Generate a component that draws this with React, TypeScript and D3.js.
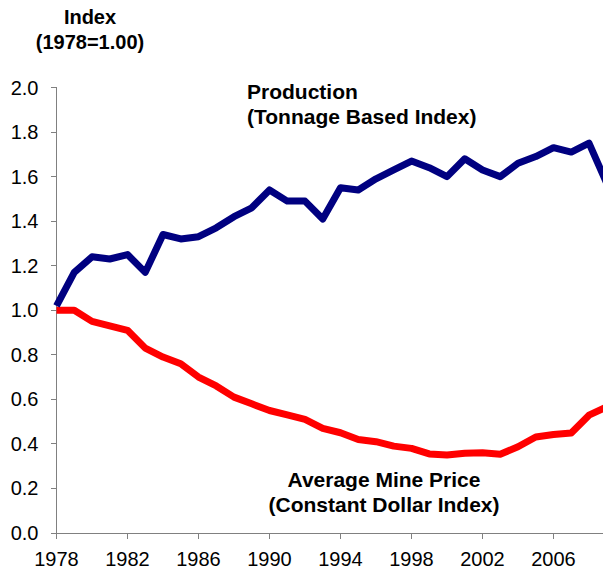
import React from 'react';
import * as d3 from 'd3';

const years = d3.range(1978, 2010);

const production = [
  1.02, 1.17, 1.24, 1.23, 1.25, 1.17, 1.34, 1.32, 1.33, 1.37, 1.42, 1.46,
  1.54, 1.49, 1.49, 1.41, 1.55, 1.54, 1.59, 1.63, 1.67, 1.64, 1.6, 1.68,
  1.63, 1.6, 1.66, 1.69, 1.73, 1.71, 1.75, 1.57,
];

const price = [
  1.0, 1.0, 0.95, 0.93, 0.91, 0.83, 0.79, 0.76, 0.7, 0.66, 0.61, 0.58,
  0.55, 0.53, 0.51, 0.47, 0.45, 0.42, 0.41, 0.39, 0.38, 0.355, 0.35, 0.358,
  0.36, 0.354, 0.387, 0.431, 0.442, 0.449, 0.529, 0.566,
];

const yTicks = [0, 0.2, 0.4, 0.6, 0.8, 1.0, 1.2, 1.4, 1.6, 1.8, 2.0];
const xTicks = [1978, 1982, 1986, 1990, 1994, 1998, 2002, 2006];

const width = 603;
const height = 569;
const margin = { top: 87.5, left: 56.5, bottom: 36 };
const font = 'Arial, "Liberation Sans", sans-serif';

export default function App() {
  const x = d3.scaleLinear([1978, 2009], [margin.left, margin.left + 31 * 17.75]);
  const y = d3.scaleLinear([0, 2], [height - margin.bottom, margin.top]);

  const line = d3.line((d, i) => x(years[i]), y);
  const axisColor = '#808080';
  const y0 = y(0);

  return (
    <div style={{ position: 'absolute', left: 0, top: 0 }}>
      <svg width={width} height={height} style={{ display: 'block' }}>
        <g fontFamily={font} fontWeight="bold" fontSize="20" fill="#000">
          <text x={90} y={24} textAnchor="middle">Index</text>
          <text x={90} y={49} textAnchor="middle">(1978=1.00)</text>
        </g>

        <g stroke={axisColor} strokeWidth="1" fill="none" shapeRendering="crispEdges">
          <line x1={x(1978)} x2={x(1978)} y1={y(2)} y2={y0} />
          <line x1={x(1978)} x2={width} y1={y0} y2={y0} />
          {yTicks.map((t) => (
            <line key={t} x1={x(1978) - 6} x2={x(1978)} y1={y(t)} y2={y(t)} />
          ))}
          {xTicks.map((t) => (
            <line key={t} x1={x(t)} x2={x(t)} y1={y0} y2={y0 + 6} />
          ))}
        </g>

        <g fontFamily={font} fontSize="20" fill="#000">
          {yTicks.map((t) => (
            <text key={t} x={x(1978) - 18} y={y(t)} dy="0.35em" textAnchor="end">
              {t.toFixed(1)}
            </text>
          ))}
          {xTicks.map((t) => (
            <text key={t} x={x(t)} y={566} textAnchor="middle">
              {t}
            </text>
          ))}
        </g>

        <path
          d={line(price)}
          fill="none"
          stroke="#ff0000"
          strokeWidth="7"
          strokeLinejoin="round"
        />
        <path
          d={line(production)}
          fill="none"
          stroke="#000080"
          strokeWidth="7"
          strokeLinejoin="round"
        />

        <g fontFamily={font} fontWeight="bold" fontSize="21" fill="#000">
          <text x={247} y={99}>Production</text>
          <text x={247} y={124}>(Tonnage Based Index)</text>
          <text x={384} y={487} textAnchor="middle">Average Mine Price</text>
          <text x={384} y={512} textAnchor="middle">(Constant Dollar Index)</text>
        </g>
      </svg>
    </div>
  );
}
